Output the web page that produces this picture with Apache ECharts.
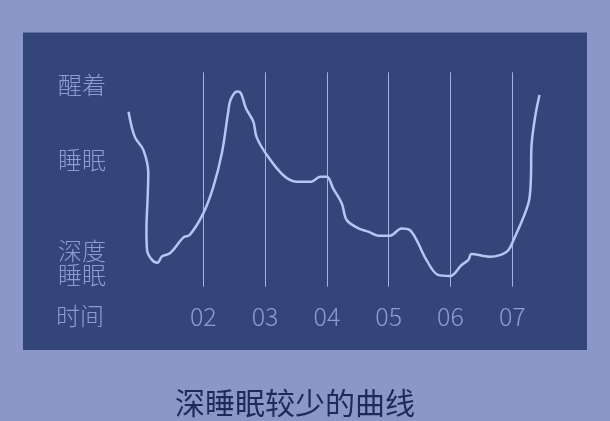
<!DOCTYPE html>
<html>
<head>
<meta charset="utf-8">
<script src="https://cdn.jsdelivr.net/npm/echarts@6/dist/echarts.min.js"></script>
<style>
html,body{margin:0;padding:0;background:#8b97c9;}
#chart{width:610px;height:421px;}
</style>
</head>
<body>
<div id="chart"></div>
<script>
// Hours (x) and sleep-depth level (y, 0 = deepest, 100 = awake)
const hours = [0.79,0.89,1.03,1.11,1.10,1.08,1.09,1.17,1.26,1.33,1.46,1.68,1.78,2.00,2.16,2.30,2.40,2.44,2.55,2.61,2.69,2.81,2.86,3.01,3.29,3.51,3.75,3.89,4.00,4.10,4.24,4.32,4.51,4.67,4.83,5.02,5.21,5.34,5.45,5.61,5.80,5.99,6.18,6.29,6.34,6.64,6.91,7.02,7.26,7.30,7.31,7.37,7.44];
const depth = [81.6,70.0,63.8,52.9,42.0,26.4,17.1,12.5,11.2,14.1,15.6,23.0,24.1,34.2,46.3,62.2,80.9,87.1,91.0,90.2,83.2,77.0,70.0,62.2,52.1,49.0,49.0,51.3,51.3,45.9,38.9,31.1,27.2,25.7,23.8,23.8,27.2,26.4,21.8,12.5,5.5,5.0,10.1,12.5,15.3,14.0,16.3,21.8,38.9,49.8,65.3,79.3,89.4];
const timeTicks = [2,3,4,5,6,7];
const timeLabels = ['02','03','04','05','06','07'];
const levelValues = [11.1,59.1,94.1];
const levelLabels = ['深度\n睡眠','睡眠','醒着'];
const xName = '时间';
const caption = '深睡眠较少的曲线';

const points = hours.map((h,i)=>[h,depth[i]]);
const font = "'Noto Sans CJK SC', 'Noto Sans', sans-serif";
const labelColor = '#8f9cd3';

const chart = echarts.init(document.getElementById('chart'));
chart.setOption({
  backgroundColor: '#8b97c9',
  animation: false,
  title: {
    text: caption,
    left: 170,
    top: 383,
    textStyle: {fontFamily: font, fontSize: 30, fontWeight: 'normal', color: '#1e2b5a'}
  },
  graphic: [{
    type: 'rect', z: -1, silent: true,
    shape: {x: 23, y: 32.5, width: 564, height: 317.5},
    style: {fill: '#34457a'}
  }, {
    type: 'text', z: 5, silent: true,
    x: 56, y: 316,
    style: {text: xName, font: "300 24px 'Noto Sans CJK SC', sans-serif", fill: labelColor, verticalAlign: 'middle'}
  }],
  grid: {left: 126.05, right: 66.8, top: 72.3, bottom: 134.3},
  xAxis: {
    type: 'value', min: 0.75, max: 7.5,
    axisLine: {show: false},
    splitLine: {show: false},
    axisTick: {show: true, inside: true, length: 214.4, customValues: timeTicks,
      lineStyle: {color: '#a3b0e2', width: 1}},
    axisLabel: {customValues: timeTicks, margin: 17, fontFamily: font, fontSize: 25, fontWeight: 300,
      color: labelColor, formatter: v => timeLabels[timeTicks.indexOf(v)]}
  },
  yAxis: {
    type: 'value', min: 0, max: 100,
    axisLine: {show: false}, axisTick: {show: false}, splitLine: {show: false},
    axisLabel: {customValues: levelValues, margin: 20, fontFamily: font, fontSize: 24, fontWeight: 300,
      lineHeight: 23.5, color: labelColor,
      formatter: v => levelLabels[levelValues.indexOf(v)]}
  },
  series: [{
    type: 'line', data: points, smooth: 0.35, showSymbol: false,
    lineStyle: {color: '#b6c6f2', width: 2.5}
  }]
});
</script>
</body>
</html>
